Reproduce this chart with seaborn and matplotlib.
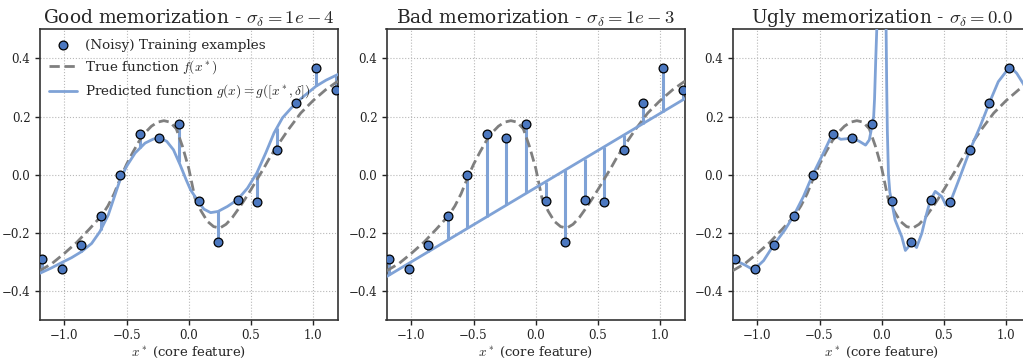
import numpy as np
import pandas as pd
import matplotlib
matplotlib.use("Agg")
import matplotlib.pyplot as plt
import seaborn as sns

# ---------------- data ----------------
train_x = [-1.18, -1.023, -0.866, -0.708, -0.551, -0.393, -0.236, -0.079,
           0.079, 0.236, 0.393, 0.551, 0.708, 0.866, 1.023, 1.18]
train_y = [-0.289, -0.324, -0.242, -0.142, 0.0, 0.140, 0.126, 0.173,
           -0.090, -0.231, -0.087, -0.093, 0.086, 0.247, 0.366, 0.291]

true_x = [-1.2, -1.1, -1.0, -0.9, -0.8, -0.7, -0.65, -0.6, -0.55, -0.5, -0.45,
          -0.4, -0.35, -0.3, -0.25, -0.2, -0.15, -0.1, -0.05, 0.0,
          0.05, 0.1, 0.15, 0.2, 0.25, 0.3, 0.35, 0.4, 0.45, 0.5, 0.55,
          0.6, 0.65, 0.7, 0.8, 0.9, 1.0, 1.1, 1.2]
true_y = [-0.330, -0.305, -0.270, -0.232, -0.187, -0.140, -0.107, -0.065, -0.012,
          0.036, 0.077, 0.115, 0.145, 0.167, 0.181, 0.186, 0.181, 0.158, 0.097, 0.022,
          -0.080, -0.125, -0.160, -0.178, -0.183, -0.170, -0.147, -0.117, -0.085,
          -0.051, -0.015, 0.020, 0.058, 0.092, 0.155, 0.212, 0.255, 0.292, 0.322]

# Good memorization: smooth prediction
good_x = [-1.2, -1.104, -1.023, -0.943, -0.862, -0.781, -0.714, -0.647, -0.593,
          -0.552, -0.5, -0.431, -0.351, -0.284, -0.23, -0.177, -0.123, -0.069,
          -0.02, 0.015, 0.077, 0.122, 0.176, 0.235, 0.31, 0.391, 0.472, 0.547,
          0.619, 0.686, 0.754, 0.861, 0.942, 1.022, 1.103, 1.2]
good_y = [-0.339, -0.320, -0.302, -0.285, -0.264, -0.236, -0.195, -0.138, -0.069,
          -0.017, 0.029, 0.075, 0.109, 0.123, 0.126, 0.115, 0.086, 0.034,
          -0.018, -0.052, -0.092, -0.118, -0.130, -0.126, -0.109, -0.086, -0.046, 0.006,
          0.075, 0.144, 0.196, 0.247, 0.276, 0.304, 0.325, 0.345]
good_at_train = [-0.335, -0.302, -0.265, -0.190, -0.016, 0.093, 0.126, 0.045,
                 -0.093, -0.126, -0.085, 0.009, 0.162, 0.249, 0.304, 0.341]

# Bad memorization: straight prediction
bad_x = [-1.2, 1.2]
bad_y = [-0.350, 0.262]
bad_at_train = [-0.345, -0.305, -0.265, -0.224, -0.184, -0.144, -0.104, -0.064,
                -0.024, 0.016, 0.056, 0.096, 0.136, 0.176, 0.216, 0.257]

# Ugly memorization: wiggly prediction
ugly_x = [-1.2, -1.1, -1.03, -0.95, -0.87, -0.78, -0.71, -0.63, -0.555, -0.47,
          -0.395, -0.36, -0.33, -0.28, -0.24, -0.18, -0.13, -0.1, -0.076, -0.065,
          -0.058, -0.048, -0.04, -0.03, 0.0, 0.025, 0.035, 0.04, 0.045, 0.054,
          0.065, 0.079, 0.107, 0.134, 0.161, 0.19, 0.215, 0.242, 0.28, 0.322,
          0.354, 0.391, 0.43, 0.483, 0.515, 0.552, 0.63, 0.71, 0.79, 0.865,
          0.937, 1.02, 1.04, 1.085, 1.136, 1.2]
ugly_y = [-0.289, -0.31, -0.327, -0.295, -0.242, -0.19, -0.142, -0.075, 0.0, 0.074,
          0.142, 0.130, 0.122, 0.124, 0.126, 0.115, 0.102, 0.12, 0.173, 0.2,
          0.26, 0.4, 0.5, 0.62, 0.75, 0.65, 0.5, 0.3, 0.15, 0.0,
          -0.06, -0.09, -0.155, -0.184, -0.213, -0.26, -0.247, -0.231, -0.25, -0.201,
          -0.144, -0.087, -0.057, -0.075, -0.104, -0.093, -0.006, 0.086, 0.165, 0.247,
          0.32, 0.366, 0.368, 0.349, 0.314, 0.28]

titles = [r"Good memorization - $\sigma_\delta = 1e-4$",
          r"Bad memorization - $\sigma_\delta = 1e-3$",
          r"Ugly memorization - $\sigma_\delta = 0.0$"]
xlabel = r"$x^*$ (core feature)"
legend_labels = ["(Noisy) Training examples", r"True function $f(x^*)$",
                 r"Predicted function $g(x) = g([x^*, \delta])$"]
xticks = [-1.0, -0.5, 0.0, 0.5, 1.0]
yticks = [-0.4, -0.2, 0.0, 0.2, 0.4]

# ---------------- style ----------------
sns.set_theme(style="whitegrid")
plt.rcParams.update({
    "font.family": ["DejaVu Serif"],
    "mathtext.fontset": "cm",
    "axes.edgecolor": "#333333",
    "axes.linewidth": 1.2,
    "grid.color": "#b8b8b8",
    "grid.linestyle": ":",
    "grid.linewidth": 0.8,
    "xtick.bottom": True,
    "ytick.left": True,
    "xtick.major.size": 3.5,
    "ytick.major.size": 3.5,
    "xtick.color": "#222222",
    "ytick.color": "#222222",
})

PT_COLOR = "#4c78c0"
LINE_COLOR = "#7fa2d6"
TRUE_COLOR = "#7f7f7f"

fig = plt.figure(figsize=(10.23, 3.6), dpi=100)
W, H = 1023.0, 360.0
lefts = [39.5, 386.5, 732.5]
axes = [fig.add_axes([l / W, 39.7 / H, 298.5 / W, 291.0 / H]) for l in lefts]

preds = [(good_x, good_y, good_at_train), (bad_x, bad_y, bad_at_train), (ugly_x, ugly_y, None)]

df_train = pd.DataFrame({"x": train_x, "y": train_y})
df_true = pd.DataFrame({"x": true_x, "y": true_y})

for i, ax in enumerate(axes):
    px, py, pat = preds[i]
    df_pred = pd.DataFrame({"x": px, "y": py})
    if pat is not None:
        ax.vlines(train_x, train_y, pat, color=LINE_COLOR, lw=2.2, zorder=2)
    sns.lineplot(data=df_true, x="x", y="y", ax=ax, color=TRUE_COLOR, lw=2.0,
                 linestyle=(0, (3.7, 1.7)), estimator=None, sort=False,
                 label=legend_labels[1], zorder=3)
    sns.lineplot(data=df_pred, x="x", y="y", ax=ax, color=LINE_COLOR, lw=2.0,
                 estimator=None, sort=False, label=legend_labels[2], zorder=3)
    sns.scatterplot(data=df_train, x="x", y="y", ax=ax, color=PT_COLOR, s=40,
                    edgecolor="black", linewidth=0.9, label=legend_labels[0], zorder=5)
    ax.set_xlim(-1.2, 1.2)
    ax.set_ylim(-0.5, 0.5)
    ax.set_xticks(xticks)
    ax.set_yticks(yticks)
    ax.tick_params(labelsize=8.5, pad=3, width=1)
    ax.set_xlabel(xlabel, fontsize=9.5, labelpad=2)
    ax.set_ylabel("")
    ax.set_title(titles[i], fontsize=13.4, pad=4)
    h, l = ax.get_legend_handles_labels()
    if i == 0:
        order = [l.index(legend_labels[0]), l.index(legend_labels[1]), l.index(legend_labels[2])]
        ax.legend([h[k] for k in order], [l[k] for k in order], loc="upper left",
                  frameon=False, fontsize=9.7, handlelength=2.1, handletextpad=0.6,
                  borderaxespad=0.3, labelspacing=0.5)
    else:
        lg = ax.get_legend()
        if lg is not None:
            lg.remove()

fig.savefig("out.png", dpi=100)
